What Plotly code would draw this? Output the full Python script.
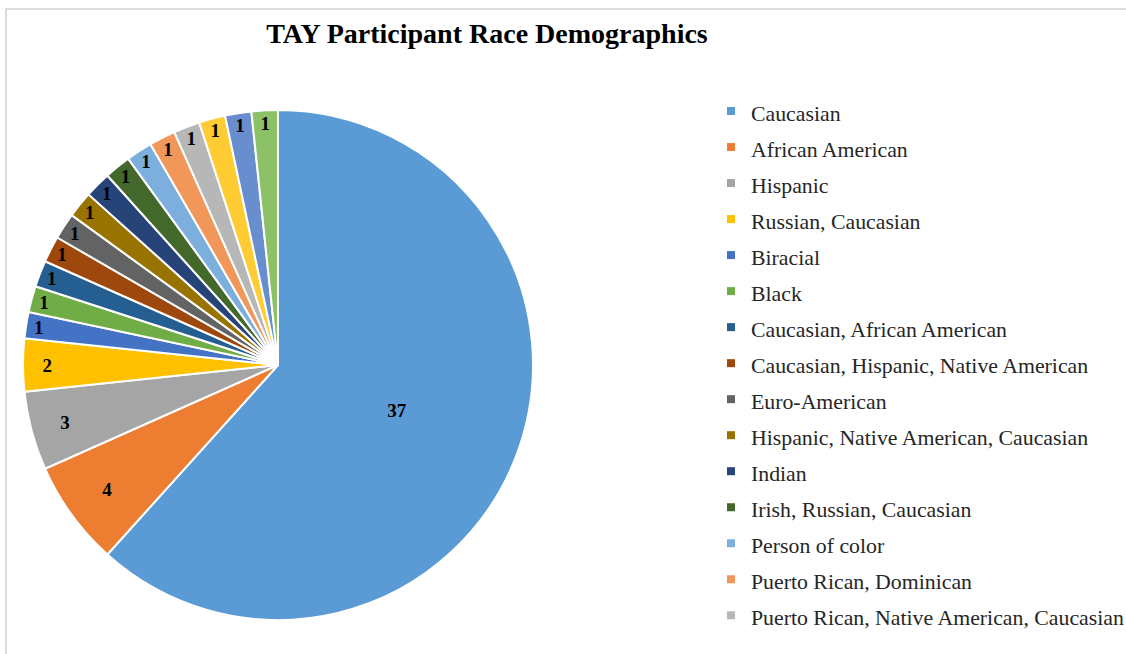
import plotly.graph_objects as go

# Participant race categories and head counts
categories = [
    "Caucasian",
    "African American",
    "Hispanic",
    "Russian, Caucasian",
    "Biracial",
    "Black",
    "Caucasian, African American",
    "Caucasian, Hispanic, Native American",
    "Euro-American",
    "Hispanic, Native American, Caucasian",
    "Indian",
    "Irish, Russian, Caucasian",
    "Person of color",
    "Puerto Rican, Dominican",
    "Puerto Rican, Native American, Caucasian",
    "Russian",
    "White",
    "White, Hispanic",
]
counts = [37, 4, 3, 2, 1, 1, 1, 1, 1, 1, 1, 1, 1, 1, 1, 1, 1, 1]

# Office-style slice palette
colors = [
    "#5B9BD5", "#ED7D31", "#A5A5A5", "#FFC000", "#4472C4", "#70AD47",
    "#255E91", "#9E480E", "#636363", "#997300", "#264478", "#43682B",
    "#7CAFDD", "#F1975A", "#B7B7B7", "#FFCD33", "#698ED0", "#8CC168",
]

# the legend box only has room for this many entries
LEGEND_ROWS = 15

W, H = 1126, 654
SERIF = "Liberation Serif"

fig = go.Figure(
    go.Pie(
        labels=categories,
        values=counts,
        sort=False,
        direction="clockwise",
        rotation=0,
        marker=dict(colors=colors, line=dict(color="white", width=2)),
        textinfo="value",
        textposition="inside",
        insidetextorientation="horizontal",
        textfont=dict(family=SERIF, size=19, color="black", weight="bold"),
        domain=dict(x=[23 / W, 533 / W], y=[1 - 620 / H, 1 - 110 / H]),
        hoverinfo="label+value+percent",
        showlegend=False,
    )
)

# legend entries (rows use a taller base font for spacing, smaller visible text)
for name, col in zip(categories[:LEGEND_ROWS], colors[:LEGEND_ROWS]):
    fig.add_trace(
        go.Scatter(
            x=[None], y=[None], mode="markers", name=f"<span style='font-size:21.8px'>{name}</span>",
            marker=dict(symbol="square", size=8, color=col),
            hoverinfo="skip",
        )
    )

# chart frame
fig.add_shape(
    type="rect", xref="paper", yref="paper",
    x0=6 / W, y0=-0.05, x1=1.05, y1=1 - 9 / H,
    line=dict(color="#D0D0D0", width=1.5), layer="below",
)

fig.update_layout(
    width=W,
    height=H,
    margin=dict(l=0, r=0, t=0, b=0, autoexpand=False),
    paper_bgcolor="white",
    plot_bgcolor="white",
    xaxis=dict(visible=False),
    yaxis=dict(visible=False),
    title=dict(
        text="<b>TAY Participant Race Demographics</b>",
        x=487 / W, xanchor="center",
        y=1 - 33 / H, yanchor="middle",
        font=dict(family=SERIF, size=28, color="black"),
    ),
    legend=dict(
        x=711 / W, xanchor="left",
        y=1 - 88 / H, yanchor="top",
        font=dict(family=SERIF, size=25.4, color="#262626"),
        maxheight=1400,
        bgcolor="rgba(0,0,0,0)",
    ),
    uniformtext=dict(minsize=19, mode="show"),
)

fig.write_html("out.html")
